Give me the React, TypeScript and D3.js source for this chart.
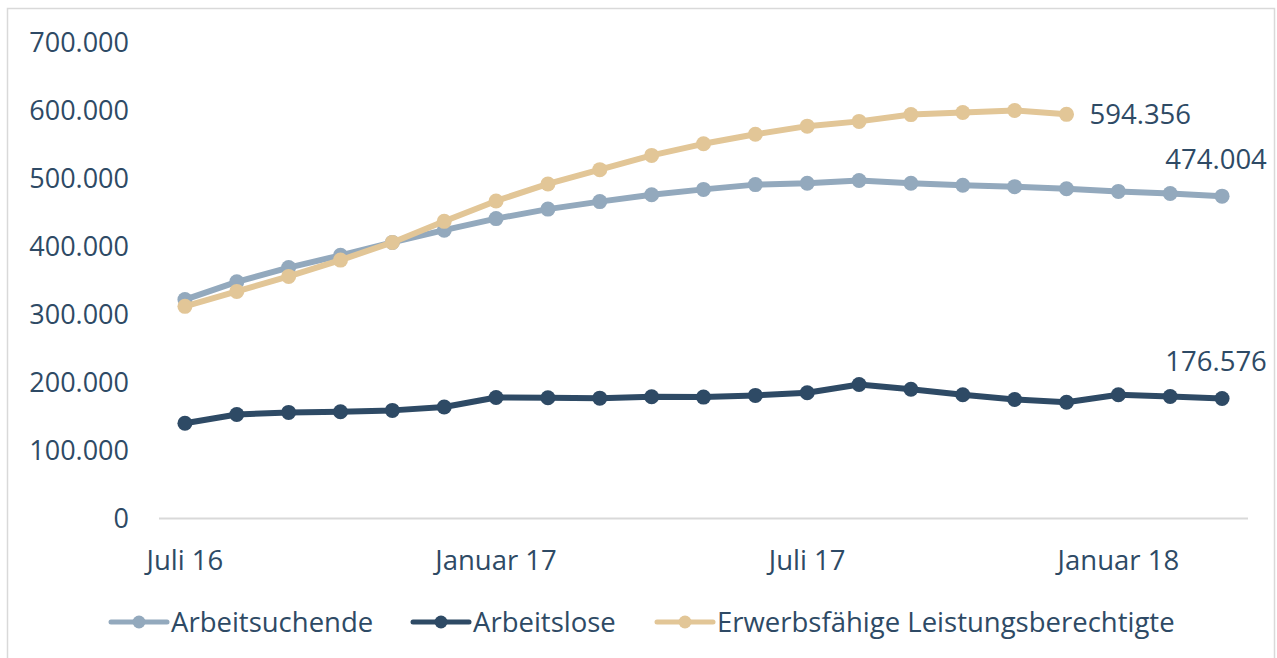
import React, { useRef, useEffect } from 'react';
import * as d3 from 'd3';

// Monthly values, Juli 2016 - März 2018
const months = [
  'Juli 16', 'August 16', 'September 16', 'Oktober 16', 'November 16', 'Dezember 16',
  'Januar 17', 'Februar 17', 'März 17', 'April 17', 'Mai 17', 'Juni 17',
  'Juli 17', 'August 17', 'September 17', 'Oktober 17', 'November 17', 'Dezember 17',
  'Januar 18', 'Februar 18', 'März 18',
];
const tickMonths = ['Juli 16', 'Januar 17', 'Juli 17', 'Januar 18'];
const yTicks = [0, 100000, 200000, 300000, 400000, 500000, 600000, 700000];

const arbeitsuchende = [
  322000, 348000, 369000, 387000, 406000, 424000, 441000, 455000, 466000, 476000,
  484000, 491000, 493000, 497000, 493000, 490000, 488000, 485000, 481000, 478000, 474004,
];
const arbeitslose = [
  140000, 153000, 156000, 157000, 159000, 164000, 178000, 177500, 177000, 179000,
  178500, 181000, 185000, 197000, 190000, 182000, 175000, 171000, 182000, 179500, 176576,
];
const leistungsberechtigte = [
  312000, 334000, 356000, 380000, 406000, 437000, 467000, 492000, 513000, 534000,
  551000, 565000, 577000, 584000, 594000, 597000, 600000, 594356,
];

const seriesNames = ['Arbeitsuchende', 'Arbeitslose', 'Erwerbsfähige Leistungsberechtigte'];
const seriesColors = ['#93a9bd', '#2e4a65', '#e2c697'];
const textColor = '#2e4a65';

const fmt = (v: number) => d3.format(',')(v).replace(/,/g, '.');

const App = () => {
  const svgRef = useRef<SVGSVGElement>(null);

  useEffect(() => {
    document.body.style.margin = '0';
    const svg = d3.select(svgRef.current);
    svg.selectAll('*').remove();

    const W = 1277, H = 658;
    const plot = { left: 159, right: 1248, top: 42, bottom: 518.5 };

    // chart frame
    svg.append('rect')
      .attr('x', 7.5).attr('y', 8.5)
      .attr('width', 1267).attr('height', 680)
      .attr('fill', '#fff')
      .attr('stroke', '#d9d9d9')
      .attr('stroke-width', 1.5);

    const x = d3.scalePoint<string>()
      .domain(months)
      .range([plot.left, plot.right])
      .padding(0.5);

    const y = d3.scaleLinear()
      .domain([0, 700000])
      .range([plot.bottom, plot.bottom - 7 * 68]);

    // y labels
    svg.append('g')
      .selectAll('text')
      .data(yTicks)
      .join('text')
      .attr('x', 129)
      .attr('y', d => y(d))
      .attr('dy', '0.35em')
      .attr('text-anchor', 'end')
      .style('font-family', '"Open Sans", sans-serif')
      .style('font-size', '27px')
      .style('fill', textColor)
      .text(d => fmt(d));

    // baseline
    svg.append('line')
      .attr('x1', plot.left).attr('x2', plot.right)
      .attr('y1', y(0)).attr('y2', y(0))
      .attr('stroke', '#d9d9d9')
      .attr('stroke-width', 2);

    // x labels
    svg.append('g')
      .selectAll('text')
      .data(tickMonths)
      .join('text')
      .attr('x', d => x(d)!)
      .attr('y', 560)
      .attr('dy', '0.35em')
      .attr('text-anchor', 'middle')
      .style('font-family', '"Open Sans", sans-serif')
      .style('font-size', '27.5px')
      .style('fill', textColor)
      .text(d => d);

    const allSeries = [arbeitsuchende, arbeitslose, leistungsberechtigte];
    const line = d3.line<number>()
      .x((_, i) => x(months[i])!)
      .y(d => y(d));

    allSeries.forEach((vals, s) => {
      const g = svg.append('g');
      g.append('path')
        .datum(vals)
        .attr('d', line)
        .attr('fill', 'none')
        .attr('stroke', seriesColors[s])
        .attr('stroke-width', 6)
        .attr('stroke-linejoin', 'round');
      g.selectAll('circle')
        .data(vals)
        .join('circle')
        .attr('cx', (_, i) => x(months[i])!)
        .attr('cy', d => y(d))
        .attr('r', 7.5)
        .attr('fill', seriesColors[s]);
    });

    // data labels on the last points
    const labelStyle = (t: d3.Selection<SVGTextElement, unknown, null, undefined>) =>
      t.style('font-family', '"Open Sans", sans-serif')
        .style('font-size', '27.5px')
        .style('fill', textColor);

    const lastL = leistungsberechtigte.length - 1;
    svg.append('text')
      .attr('x', x(months[lastL])! + 23)
      .attr('y', y(leistungsberechtigte[lastL]))
      .attr('dy', '0.35em')
      .call(labelStyle)
      .text(fmt(leistungsberechtigte[lastL]));

    const lastA = arbeitsuchende.length - 1;
    svg.append('text')
      .attr('x', x(months[lastA])! - 6)
      .attr('y', y(arbeitsuchende[lastA]) - 37)
      .attr('dy', '0.35em')
      .attr('text-anchor', 'middle')
      .call(labelStyle)
      .text(fmt(arbeitsuchende[lastA]));

    svg.append('text')
      .attr('x', x(months[lastA])! - 6)
      .attr('y', y(arbeitslose[lastA]) - 37)
      .attr('dy', '0.35em')
      .attr('text-anchor', 'middle')
      .call(labelStyle)
      .text(fmt(arbeitslose[lastA]));

    // legend
    const legendX = [111, 413, 657];
    const legend = svg.append('g');
    seriesNames.forEach((name, i) => {
      const lg = legend.append('g').attr('transform', `translate(${legendX[i]},622)`);
      lg.append('line')
        .attr('x1', 0).attr('x2', 56)
        .attr('stroke', seriesColors[i])
        .attr('stroke-width', 5)
        .attr('stroke-linecap', 'round');
      lg.append('circle')
        .attr('cx', 28)
        .attr('r', 6.5)
        .attr('fill', seriesColors[i]);
      lg.append('text')
        .attr('x', 60)
        .attr('dy', '0.35em')
        .style('font-family', '"Open Sans", sans-serif')
        .style('font-size', '27.5px')
        .style('fill', textColor)
        .text(name);
    });

    svg.attr('width', W).attr('height', H);
  }, []);

  return <svg ref={svgRef} width={1277} height={658} style={{ display: 'block' }} />;
};

export default App;
